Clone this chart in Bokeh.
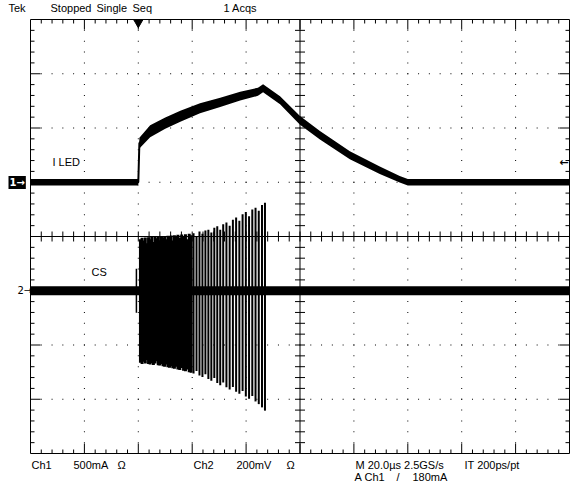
import numpy as np
from bokeh.plotting import figure
from bokeh.models import Range1d, Label
from bokeh.embed import file_html
from bokeh.resources import INLINE

# ---------------- data ----------------
# Ch1: LED current, time in microseconds, current in mA (500 mA/div, ground at +1 div)
iled_t = [-40.0, -0.3, 0.0, 0.4, 4.4, 10.0, 15.6, 22.9, 30.4, 37.8, 44.4, 46.3,
          52.6, 60.0, 67.4, 78.5, 89.6, 97.0, 100.0, 160.0]
iled_ma = [0, 0, 0, 360, 470, 545, 608, 682, 737, 793, 834, 866,
           756, 571, 433, 249, 111, 28, 0, 0]
iled_ripple = [60, 60, 70, 100, 110, 105, 100, 90, 85, 80, 75, 75,
               75, 80, 80, 75, 70, 60, 60, 60]

# Ch2: CS voltage, mV (200 mV/div, ground at -1 div)
cs_base_t = [-40.0, 160.0]
cs_base_mv = [0.0, 0.0]
cs_pulse_t = [0.8, 1.4, 2.0, 2.6, 3.2, 3.8, 4.4, 5.0, 5.6, 6.2, 6.8, 7.4, 8.0, 8.6, 9.2,
              9.8, 10.4, 11.0, 11.6, 12.2, 12.8, 13.4, 14.0, 14.7, 15.4, 16.1, 16.8,
              17.5, 18.2, 18.9, 19.6,
              20.5, 21.6, 22.7, 23.8, 24.9, 26.0, 27.1, 28.2, 29.3, 30.4, 31.5, 32.7,
              33.9, 35.1, 36.3, 37.5, 38.7, 39.9, 41.1, 42.3, 43.5, 44.7, 45.9, 47.0]
cs_pulse_top = [190, 195, 185, 196, 175, 197, 190, 198, 180, 199, 194, 200, 186, 201, 196,
                202, 190, 203, 198, 204, 185, 205, 200, 206, 195, 207, 202, 208, 190, 210,
                205,
                212, 200, 218, 210, 222, 225, 215, 232, 238, 225, 245, 252, 240, 262,
                270, 258, 282, 290, 275, 300, 306, 295, 316, 324]
cs_pulse_bot = [-265, -270, -262, -268, -255, -270, -272, -266, -274, -268, -260, -275,
                -276, -270, -278, -280, -272, -282, -284, -278, -286, -288, -280, -290,
                -292, -285, -295, -297, -290, -300, -302,
                -305, -296, -312, -318, -308, -325, -332, -322, -340, -348, -338, -356,
                -364, -355, -372, -380, -370, -390, -398, -388, -408, -418, -430, -442]
cs_spike_t = [-0.7]
cs_spike_top = [81]
cs_spike_bot = [-81]

ch1_scale_ma = 500.0
ch1_offset_div = 1.0
ch2_scale_mv = 200.0
ch2_offset_div = -1.0
trigger_level_ma = 180.0

# ---------------- layout ----------------
W, H = 570, 493
FL, FR, FT, FB = 30, 569, 19, 453   # graticule box in canvas pixels
GX0, GX1 = -40.0, 160.0             # time, microseconds (10 div x 20 us)
GY0, GY1 = -4.0, 4.0                # vertical divisions

tx = (GX1 - GX0) / (FR - FL)
ty = (GY1 - GY0) / (FB - FT)

def dx(px):
    return GX0 + (px - FL) * tx

def dy(py):
    return GY1 - (py - FT) * ty

p = figure(width=W, height=H, output_backend="svg", toolbar_location=None,
           x_range=Range1d(dx(0), dx(W)), y_range=Range1d(dy(H), dy(0)),
           x_axis_location=None, y_axis_location=None, title=None,
           min_border=0, min_border_left=0, min_border_right=0,
           min_border_top=0, min_border_bottom=0)
p.grid.visible = False
p.outline_line_color = None
p.background_fill_color = "white"
p.border_fill_color = "white"

K = "black"

# ---------------- graticule ----------------
p.segment([GX0, GX0, GX1, GX0], [GY0, GY1, GY1, GY0],
          [GX0, GX1, GX1, GX1], [GY1, GY1, GY0, GY0], line_color=K, line_width=1)
gx, gy = [], []
for k in range(1, 10):
    if k == 5:
        continue
    xv = GX0 + 20 * k
    for j in range(1, 40):
        gx.append(xv); gy.append(GY0 + 0.2 * j)
for m in range(-3, 4):
    if m == 0:
        continue
    for i in range(1, 50):
        gx.append(GX0 + 4 * i); gy.append(float(m))
p.rect(gx, gy, width=1, height=1, width_units="screen", height_units="screen",
       color=K, line_alpha=0)

p.segment([GX0, 60.0], [0.0, GY0], [GX1, 60.0], [0.0, GY1], line_color=K, line_width=1)
cx0, cy0, cx1, cy1 = [], [], [], []
for i in range(1, 50):
    xv = GX0 + 4 * i
    cx0.append(xv); cy0.append(-5 * ty); cx1.append(xv); cy1.append(5 * ty)
for j in range(1, 40):
    yv = GY0 + 0.2 * j
    cx0.append(60 - 5 * tx); cy0.append(yv); cx1.append(60 + 5 * tx); cy1.append(yv)
for i in range(1, 50):
    xv = GX0 + 4 * i
    L = 10 if i % 5 == 0 else 4
    cx0 += [xv, xv]; cy0 += [GY1, GY0]
    cx1 += [xv, xv]; cy1 += [GY1 - L * ty, GY0 + L * ty]
for j in range(1, 40):
    yv = GY0 + 0.2 * j
    L = 10 if j % 5 == 0 else 4
    cx0 += [GX0, GX1]; cy0 += [yv, yv]
    cx1 += [GX0 + L * tx, GX1 - L * tx]; cy1 += [yv, yv]
p.segment(cx0, cy0, cx1, cy1, line_color=K, line_width=1)

# ---------------- waveforms ----------------
t1 = np.array(iled_t)
i1 = np.array(iled_ma, dtype=float)
r1 = np.array(iled_ripple, dtype=float)
up = ch1_offset_div + (i1 + r1 / 2) / ch1_scale_ma
lo = ch1_offset_div + (i1 - r1 / 2) / ch1_scale_ma
p.varea(x=t1, y1=lo, y2=up, fill_color=K)
p.line(t1, ch1_offset_div + i1 / ch1_scale_ma, line_color=K, line_width=2)

p.line(cs_base_t, [ch2_offset_div + v / ch2_scale_mv for v in cs_base_mv],
       line_color=K, line_width=9)
pt = np.array(cs_pulse_t)
ptop = ch2_offset_div + np.array(cs_pulse_top, dtype=float) / ch2_scale_mv
pbot = ch2_offset_div + np.array(cs_pulse_bot, dtype=float) / ch2_scale_mv
early = pt < 20
p.segment(pt[early], pbot[early], pt[early], ptop[early], line_color=K, line_width=3)
p.segment(pt[~early], pbot[~early], pt[~early], ptop[~early], line_color=K, line_width=2)
p.segment(cs_spike_t, [ch2_offset_div + v / ch2_scale_mv for v in cs_spike_bot],
          cs_spike_t, [ch2_offset_div + v / ch2_scale_mv for v in cs_spike_top],
          line_color=K, line_width=1.5)

p.scatter([0.0], [GY1 - 3 * ty], marker="inverted_triangle", size=9, color=K)

# ---------------- texts ----------------
FONT = "Liberation Sans"
FS = "11px"

def lab(px, py, text, color=K, bg=None, fs=FS, align="left", style="normal", font=FONT):
    l = Label(x=dx(px), y=dy(py), text=text, text_font=font, text_font_size=fs,
              text_color=color, text_align=align, text_baseline="middle",
              text_font_style=style)
    if bg is not None:
        l.background_fill_color = bg
        l.padding = 1
    p.add_layout(l)

lab(8, 7, "Tek")
lab(50, 7, "Stopped")
lab(96, 7, "Single")
lab(132, 7, "Seq")
lab(223, 7, "1 Acqs")
lab(31, 464, "Ch1")
lab(73, 464, "500mA")
lab(117, 464, "\u03a9")
lab(193, 464, "Ch2")
lab(236, 464, "200mV")
lab(286, 464, "\u03a9")
lab(355, 464, "M 20.0\u00b5s 2.5GS/s")
lab(464, 464, "IT 200ps/pt")
lab(354, 476, "A")
lab(364, 476, "Ch1")
lab(396, 476, "/")
lab(412, 476, "180mA")
lab(52, 161, "I LED")
lab(91, 271, "CS")
lab(8, 182, "1\u2192", color="white", bg="black", style="bold", fs="10px", font="DejaVu Sans")
lab(17, 290, "2\u2192", fs="10px", font="DejaVu Sans")
trig_py = FT + (GY1 - (ch1_offset_div + trigger_level_ma / ch1_scale_ma)) / ty
lab(568, trig_py, "\u2190", align="right", style="bold", fs="11px", font="DejaVu Sans")

open("out.html", "w").write(file_html(p, INLINE))
